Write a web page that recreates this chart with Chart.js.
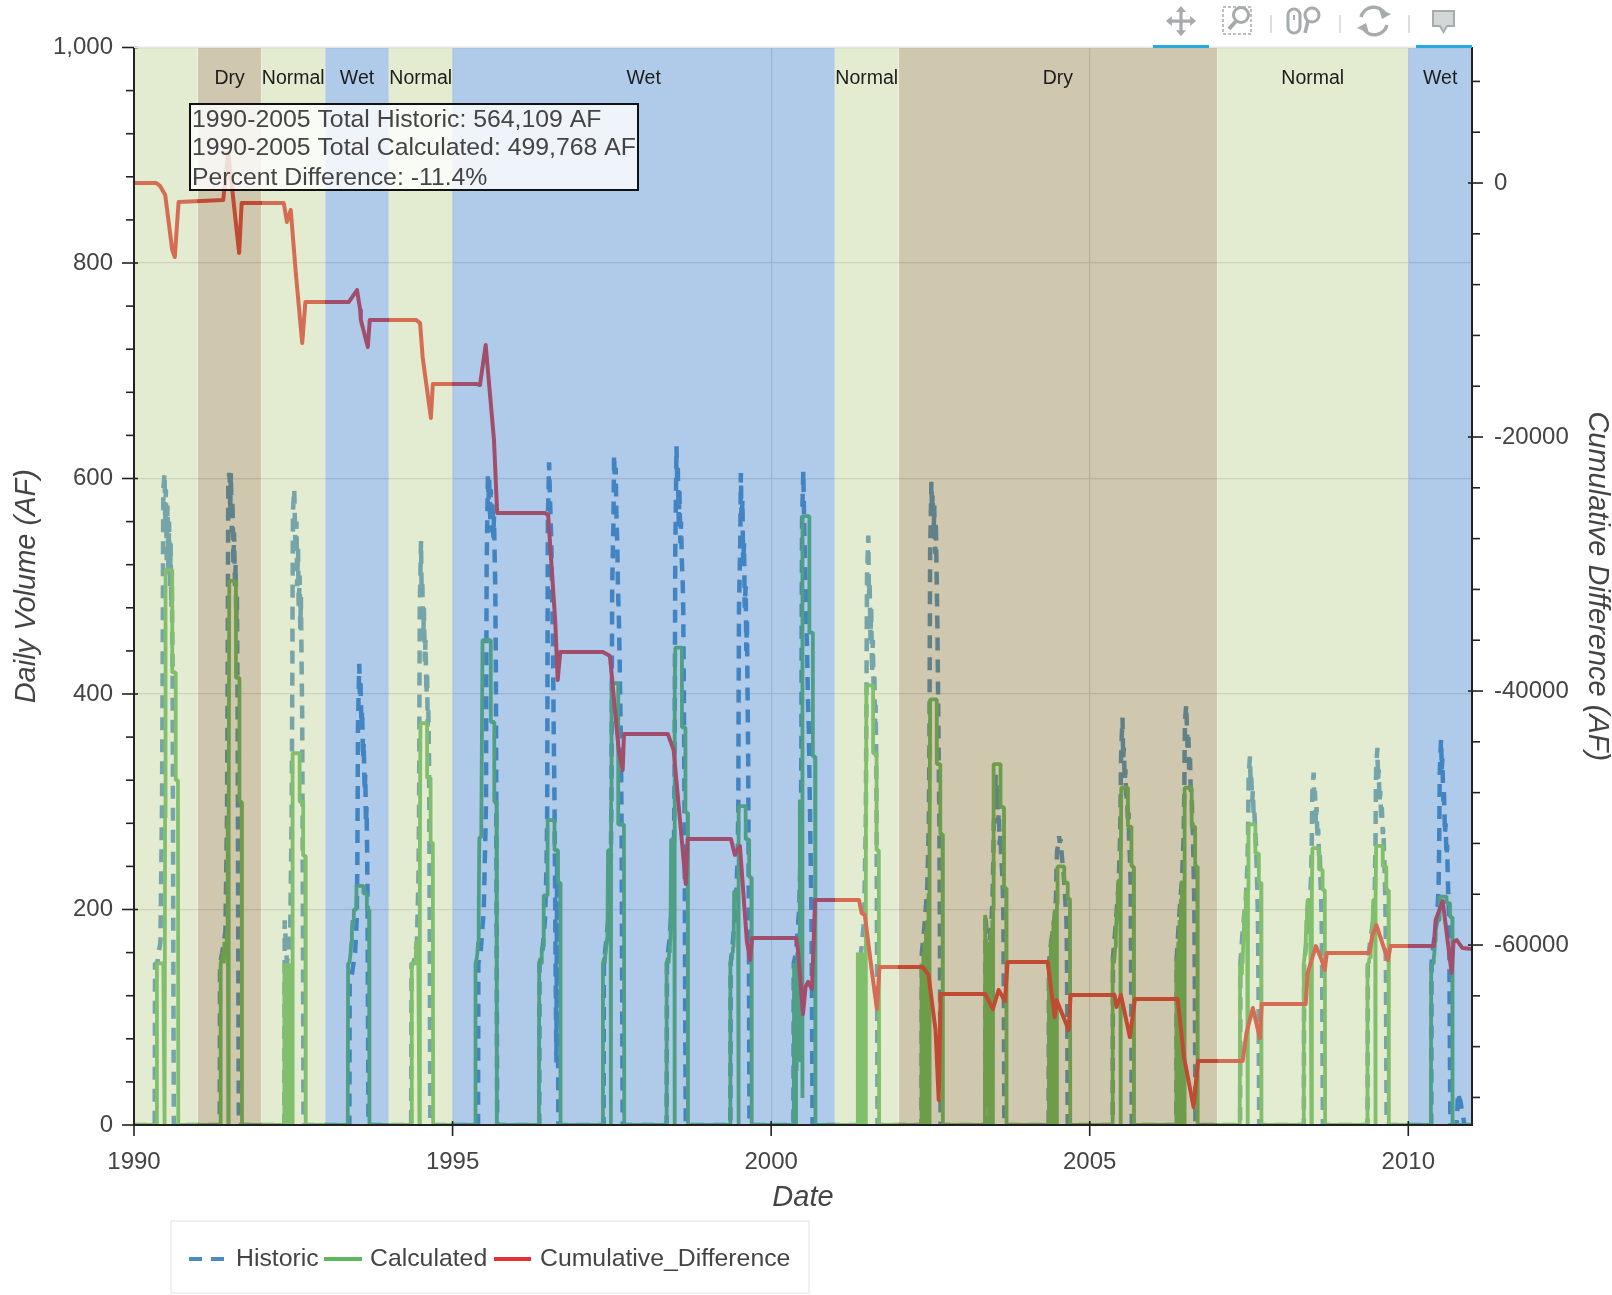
<!DOCTYPE html>
<html>
<head>
<meta charset="utf-8">
<title>Daily Volume</title>
<script src="https://cdn.jsdelivr.net/npm/chart.js"></script>
<style>
html,body{margin:0;padding:0;background:#fff;}
#wrap{position:relative;width:1612px;height:1295px;overflow:hidden;}
canvas{position:absolute;left:0;top:0;filter:blur(0.45px);}
#tools{position:absolute;left:0;top:0;filter:blur(0.4px);}
</style>
</head>
<body>
<div id="wrap">
<canvas id="c" width="1612" height="1295"></canvas>
<svg id="tools" width="1612" height="50" viewBox="0 0 1612 50" xmlns="http://www.w3.org/2000/svg">
  <rect x="134" y="46.5" width="1338" height="1.5" fill="#e5e5e5"/>
  <rect x="1153" y="45" width="56" height="3" fill="#26aae1"/>
  <rect x="1416" y="45" width="56" height="3" fill="#26aae1"/>
  <g stroke="#d0d3d4" stroke-width="1.5"><line x1="1271" y1="15" x2="1271" y2="33"/><line x1="1340" y1="15" x2="1340" y2="33"/><line x1="1409" y1="15" x2="1409" y2="33"/></g>
  <g fill="#a6abad" stroke="none">
    <path d="M1181 6l5 6h-3.400v7.500h7.500v-3.400l6 5-6 5v-3.400h-7.500v7.500h3.400l-5 6-5-6h3.400v-7.500h-7.500v3.400l-6-5 6-5v3.400h7.500v-7.500h-3.400z"/>
  </g>
  <g fill="none" stroke="#a6abad">
    <rect x="1223" y="7" width="28" height="27" stroke-width="1.500" stroke-dasharray="3 2"/>
    <circle cx="1241" cy="15" r="7.500" stroke-width="3" fill="#fff"/>
    <line x1="1236" y1="21" x2="1229" y2="29" stroke-width="4"/>
    <rect x="1288" y="9" width="12" height="24" rx="6" stroke-width="3"/>
    <line x1="1294" y1="15" x2="1294" y2="20" stroke-width="2"/>
    <circle cx="1312" cy="15" r="7" stroke-width="3"/>
    <line x1="1308" y1="21" x2="1305" y2="33" stroke-width="3.500"/>
    <path d="M1361 17a13 13 0 0 1 24-3M1387 25a13 13 0 0 1-24 3" stroke-width="3.500"/>
  </g>
  <g fill="#a6abad"><path d="M1379 9l12 5-9 5z"/><path d="M1369 33l-12-5 9-5z"/></g>
  <path d="M1433 11h21v15h-7l-3.500 6-3.500-6h-7z" fill="#d4d7d8" stroke="#a6abad" stroke-width="2"/>
</svg>
</div>
<script>
const seasonYears = [1990,1991,1992,1993,1994,1995,1996,1997,1998,1999,2000,2001,2002,2003,2004,2005,2006,2007,2008,2009,2010];

// Fraction of the year for each reading of a season
const historicFractions = [.36,.365,.40,.45,.475,.485,.49,.495,.515,.525,.535,.55,.56,.575,.585,.60,.61,.62,.63,.64,.645,.65,.66];
const historicSeasonShift = [-.035,-.015,0,.02,-.01,.04,0,.01,0,0,-.01,.01,0,0,-.005,0,0,0,0,0,0];
const calculatedFractions = [.355,.36,.38,.39,.40,.41,.42,.43,.44,.45,.46,.47,.48,.485,.488,.495,.60,.60,.655,.655,.69,.695];

const historicValues = [
 [0,150,150,170,300,430,520,590,605,560,590,520,575,510,560,500,540,480,500,430,320,210,0],
 [0,150,160,180,290,420,520,600,605,570,605,550,580,520,550,500,520,470,490,400,300,190,0],
 [0,190,150,170,290,420,510,570,590,560,530,560,500,535,480,510,460,490,430,380,300,210,0],
 [0,130,140,160,190,240,300,370,428,400,410,370,385,340,355,310,325,280,295,250,215,130,0],
 [0,150,150,170,230,300,400,480,542,490,505,450,480,430,450,400,420,370,385,340,290,200,0],
 [0,150,160,200,270,300,430,520,605,580,600,560,590,550,580,545,565,530,500,420,320,220,0],
 [0,150,155,190,240,290,420,560,615,590,570,540,500,450,380,300,210,120,58,240,230,180,0],
 [0,150,170,200,250,320,410,500,560,622,600,610,570,540,500,470,440,400,360,300,247,150,0],
 [0,150,170,210,260,330,430,530,630,600,610,560,590,540,560,520,510,480,400,300,220,120,0],
 [0,150,170,210,250,300,400,480,540,605,560,580,520,540,480,500,440,470,400,340,260,180,0],
 [0,150,160,200,260,350,470,560,607,570,540,500,470,440,400,370,330,290,250,210,170,120,0],
 [0,150,160,190,280,380,450,510,547,490,505,450,480,420,450,400,420,370,390,340,280,190,0],
 [0,160,180,220,280,360,450,530,597,570,585,545,575,530,560,500,460,400,340,280,220,150,0],
 [0,195,160,180,210,240,260,280,300,325,300,315,280,290,260,270,250,240,230,210,190,140,0],
 [0,150,170,190,210,240,250,255,262,268,262,265,255,245,240,230,220,210,200,190,170,130,0],
 [0,156,180,220,260,300,330,350,378,340,350,320,330,300,310,280,290,260,250,230,190,130,0],
 [0,155,190,230,270,310,350,375,390,370,350,360,330,340,310,310,280,270,240,210,180,120,0],
 [0,150,180,210,240,270,300,325,342,320,325,300,310,285,290,270,260,240,220,190,160,120,0],
 [0,150,170,200,230,260,290,310,327,300,310,280,295,265,275,250,255,230,215,190,160,120,0],
 [0,150,170,190,220,260,300,330,350,320,330,300,310,285,295,270,275,250,235,210,180,130,0],
 [0,150,170,190,220,260,300,330,358,330,340,300,310,270,280,250,260,230,210,190,160,100,0]
];
const historicTailDates = [2010.76,2010.78,2010.80,2010.82,2010.84,2010.86,2010.88,2011];
const historicTailValues = [0,30,25,22,14,8,0,0];

const calculatedValues = [
 [0,150,150,150,150,150,150,150,150,150,150,150,0,0,285,515,515,420,420,320,320,0],
 [0,150,155,150,160,150,170,160,170,165,180,285,0,200,285,505,505,415,415,300,300,0],
 [0,150,0,150,0,150,0,150,0,150,0,150,0,150,290,345,345,300,300,250,250,0],
 [0,150,150,150,160,170,180,190,190,200,200,200,200,200,205,222,222,215,215,200,200,0],
 [0,150,150,150,150,150,150,170,170,170,170,170,0,0,244,373,373,322,322,262,262,0],
 [0,150,155,160,170,200,267,267,267,267,267,450,450,450,450,450,450,374,374,300,300,0],
 [0,150,155,150,165,165,165,213,213,213,213,213,213,213,240,283,283,255,255,225,225,0],
 [0,150,155,150,160,165,165,175,255,255,255,255,255,0,300,410,410,279,279,279,279,0],
 [0,150,155,150,160,165,175,265,265,265,265,265,265,0,400,443,443,369,369,290,290,0],
 [0,150,155,160,165,165,217,217,217,217,217,217,217,0,296,296,296,265,265,230,230,0],
 [0,150,0,150,50,160,60,170,60,302,60,302,60,302,25,565,565,457,457,342,342,0],
 [0,160,0,160,0,160,0,160,0,160,0,160,0,170,250,408,408,345,345,255,255,0],
 [0,150,0,160,0,170,0,180,0,190,40,215,0,215,260,395,395,335,335,270,270,0],
 [0,195,20,160,30,170,0,170,0,180,0,190,0,200,250,335,335,295,295,220,220,0],
 [0,150,0,170,0,180,0,190,0,200,0,200,0,200,205,240,240,225,225,210,210,0],
 [0,156,150,156,165,180,190,200,215,227,227,227,227,0,227,313,313,277,277,240,240,0],
 [0,155,0,170,0,190,40,210,0,227,0,227,0,227,227,313,313,277,277,240,240,0],
 [0,150,140,160,150,170,190,200,195,218,190,218,0,218,218,279,279,252,252,225,225,0],
 [0,150,160,170,190,200,209,209,209,209,209,209,0,209,215,257,257,237,237,218,218,0],
 [0,150,150,155,155,160,170,180,190,209,209,209,209,0,209,259,259,240,240,218,218,0],
 [0,147,150,150,155,160,170,180,190,190,190,190,190,190,200,212,212,206,206,193,193,0]
];

const cumulativeDates = [1990,1990.35,1990.41,1990.49,1990.60,1990.64,1990.70,1991.40,1991.48,1991.65,1991.69,1992.35,1992.40,1992.46,1992.54,1992.64,1992.69,1993.37,1993.50,1993.55,1993.56,1993.67,1993.70,1994.43,1994.49,1994.53,1994.66,1994.69,1995.38,1995.43,1995.52,1995.65,1995.70,1996.45,1996.50,1996.61,1996.65,1996.69,1997.36,1997.47,1997.61,1997.67,1997.69,1998.38,1998.47,1998.66,1998.69,1999.37,1999.43,1999.51,1999.62,1999.67,1999.70,2000.39,2000.42,2000.50,2000.54,2000.58,2000.64,2000.69,2001.38,2001.42,2001.47,2001.58,2001.66,2001.70,2002.38,2002.47,2002.58,2002.63,2002.66,2003.36,2003.48,2003.57,2003.67,2003.71,2004.34,2004.45,2004.48,2004.67,2004.70,2005.39,2005.42,2005.49,2005.63,2005.71,2006.38,2006.48,2006.63,2006.70,2007.40,2007.46,2007.56,2007.67,2007.70,2008.39,2008.42,2008.55,2008.64,2008.69,2008.72,2009.39,2009.43,2009.50,2009.68,2009.72,2010.40,2010.43,2010.54,2010.68,2010.71,2010.76,2010.85,2011];
const cumulativeValues = [0,0,-240,-945,-5275,-5830,-1500,-1340,2360,-5510,-1575,-1575,-3070,-2125,-7090,-12600,-9370,-9370,-8425,-10000,-10790,-12910,-10790,-10790,-11020,-13700,-18500,-15830,-15830,-15900,-12760,-20240,-25980,-25980,-26140,-34400,-39130,-36930,-36930,-37240,-44800,-46220,-43390,-43390,-44650,-55200,-51650,-51650,-52900,-52200,-59760,-61180,-59450,-59450,-60310,-65430,-63300,-62900,-63460,-56460,-56460,-57480,-57640,-62050,-65040,-61730,-61730,-62360,-66690,-72200,-63860,-63860,-65040,-63540,-64410,-61340,-61340,-65670,-64330,-66690,-63940,-63940,-64880,-63940,-67240,-64250,-64250,-68820,-72760,-69130,-69130,-66930,-64960,-67320,-64650,-64650,-62200,-60080,-61180,-61970,-60630,-60630,-59370,-58430,-61180,-60080,-60080,-58030,-56540,-62200,-59760,-59610,-60240,-60310];

const bandStarts = [1990,1991,1992,1993,1994,1995,2001,2002,2007,2010];
const bandEnds   = [1991,1992,1993,1994,1995,2001,2002,2007,2010,2011];
const bandKinds  = ['Normal','Dry','Normal','Wet','Normal','Wet','Normal','Dry','Normal','Wet'];
const bandShowLabel = [false,true,true,true,true,true,true,true,true,true];
const bandColours = {Normal:'rgba(193,211,151,0.45)', Dry:'rgba(149,133,78,0.45)', Wet:'rgba(80,140,207,0.45)'};

const summaryLines = ['1990-2005 Total Historic: 564,109 AF','1990-2005 Total Calculated: 499,768 AF','Percent Difference: -11.4%'];
const legendNames = ['Historic','Calculated','Cumulative_Difference'];
const leftMinorTicks = [40,80,120,160,240,280,320,360,440,480,520,560,640,680,720,760,840,880,920,960];
const rightMajorTicks = [-60000,-40000,-20000,0];
const rightMinorTicks = [8000,4000,-4000,-8000,-12000,-16000,-24000,-28000,-32000,-36000,-44000,-48000,-52000,-56000,-64000,-68000,-72000];
const xMajorTicks = [1990,1995,2000,2005,2010];

const FONT = '"Liberation Sans", Arial, Helvetica, sans-serif';
const BLUE='#377eb8', GREEN='#4daf4a', RED='#e41a1c';

function seasonPoints(fractions, table, shift){
  const pts=[{x:1990,y:0}];
  table.forEach((vals,i)=>vals.forEach((v,j)=>pts.push({x:seasonYears[i]+fractions[j]+(shift?shift[i]:0),y:v})));
  return pts;
}
const historicPts = seasonPoints(historicFractions,historicValues,historicSeasonShift).concat(historicTailDates.map((d,i)=>({x:d,y:historicTailValues[i]})));
const calculatedPts = seasonPoints(calculatedFractions,calculatedValues).concat([{x:2011,y:0}]);
const cumulativePts = cumulativeDates.map((d,i)=>({x:d,y:cumulativeValues[i]}));

const bandSets = bandStarts.map((s,i)=>({
  label:bandKinds[i], data:[{x:s,y:1000},{x:bandEnds[i],y:1000}], yAxisID:'y', borderWidth:0,
  pointRadius:0, fill:'origin', backgroundColor:bandColours[bandKinds[i]], order:0, tension:0
}));

const overlay = {
  id:'overlay',
  afterDatasetsDraw(chart){
    const c=chart.ctx, x=chart.scales.x, y=chart.scales.y, r=chart.scales.y2, a=chart.chartArea;
    c.save();
    c.fillStyle='#1c1c1c'; c.font='19.5px '+FONT; c.textAlign='center'; c.textBaseline='middle';
    bandKinds.forEach((k,i)=>{ if(bandShowLabel[i]) c.fillText(k,x.getPixelForValue((bandStarts[i]+bandEnds[i])/2),79); });
    c.fillStyle='rgba(255,255,255,0.8)'; c.fillRect(190,104,448,86);
    c.strokeStyle='#111'; c.lineWidth=2; c.strokeRect(190,104,448,86);
    c.fillStyle='#444'; c.font='24.8px '+FONT; c.textAlign='left';
    [120,148,178].forEach((py,i)=>c.fillText(summaryLines[i],192,py));
    c.strokeStyle='#222'; c.lineWidth=1.6;
    const seg=(x1,y1,x2,y2)=>{c.beginPath();c.moveTo(x1,y1);c.lineTo(x2,y2);c.stroke();};
    y.ticks.forEach(t=>{const p=y.getPixelForValue(t.value);seg(a.left-12,p,a.left+4,p);});
    leftMinorTicks.forEach(v=>{const p=y.getPixelForValue(v);seg(a.left-8,p,a.left,p);});
    rightMajorTicks.forEach(v=>{const p=r.getPixelForValue(v);seg(a.right-4,p,a.right+11,p);});
    rightMinorTicks.forEach(v=>{const p=r.getPixelForValue(v);seg(a.right,p,a.right+8,p);});
    xMajorTicks.forEach(v=>{const p=x.getPixelForValue(v);seg(p,a.bottom-4,p,a.bottom+11);});
    c.restore();
  },
  afterDraw(chart){
    const c=chart.ctx;
    c.save();
    c.strokeStyle='#ececec'; c.lineWidth=1.5; c.strokeRect(171,1221,638,72);
    const ly=1259;
    c.lineWidth=4;
    c.strokeStyle='rgba(55,126,184,0.9)'; c.setLineDash([13,9]); c.beginPath(); c.moveTo(189,ly); c.lineTo(224,ly); c.stroke(); c.setLineDash([]);
    c.strokeStyle='rgba(77,175,74,0.9)'; c.beginPath(); c.moveTo(324,ly); c.lineTo(362,ly); c.stroke();
    c.strokeStyle='rgba(228,26,28,0.9)'; c.beginPath(); c.moveTo(494,ly); c.lineTo(531,ly); c.stroke();
    c.fillStyle='#444'; c.font='24.8px '+FONT; c.textAlign='left'; c.textBaseline='middle';
    c.fillText(legendNames[0],236,ly); c.fillText(legendNames[1],370,ly); c.fillText(legendNames[2],540,ly);
    c.restore();
  }
};

new Chart(document.getElementById('c'),{
  type:'line',
  data:{datasets:[
    ...bandSets,
    {label:legendNames[0],data:historicPts,yAxisID:'y',borderColor:BLUE,borderWidth:4.5,borderDash:[13,9],pointRadius:0,fill:false,order:3,tension:0,borderJoinStyle:'bevel',borderCapStyle:'butt'},
    {label:legendNames[1],data:calculatedPts,yAxisID:'y',borderColor:GREEN,borderWidth:3.8,pointRadius:0,fill:false,order:2,tension:0,borderJoinStyle:'bevel'},
    {label:legendNames[2],data:cumulativePts,yAxisID:'y2',borderColor:RED,borderWidth:4,pointRadius:0,fill:false,order:1,tension:0,borderJoinStyle:'round'}
  ]},
  plugins:[overlay],
  options:{
    responsive:false, animation:false, parsing:false, normalized:true,
    layout:{padding:{top:47.5,left:0,right:0,bottom:0}},
    plugins:{legend:{display:false},tooltip:{enabled:false},title:{display:false}},
    scales:{
      x:{type:'linear',position:'bottom',min:1990,max:2011,
        afterFit(s){s.height=170;},
        grid:{color:'#d8d8d8',lineWidth:1.2,drawTicks:false},
        border:{display:true,color:'#222',width:2,z:1},
        ticks:{stepSize:5,includeBounds:false,maxRotation:0,autoSkip:false,padding:23,color:'#444',font:{size:24,family:FONT},z:1,callback:v=>String(v)},
        title:{display:true,text:'Date',color:'#444',font:{size:29,style:'italic',family:FONT},padding:{top:0,bottom:80}}
      },
      y:{type:'linear',position:'left',min:0,max:1000,
        afterFit(s){s.width=134;},
        grid:{color:'#d8d8d8',lineWidth:1.2,drawTicks:false},
        border:{display:true,color:'#222',width:2,z:1},
        ticks:{stepSize:200,includeBounds:false,padding:21,color:'#444',font:{size:24,family:FONT},z:1,callback:v=>v.toLocaleString('en-US')},
        title:{display:true,text:'Daily Volume (AF)',color:'#444',font:{size:29,style:'italic',family:FONT},padding:{top:10,bottom:0}}
      },
      y2:{type:'linear',position:'right',min:-74170,max:10670,
        afterBuildTicks(s){s.ticks=rightMajorTicks.map(v=>({value:v}));},
        afterFit(s){s.width=140;},
        grid:{drawOnChartArea:false,drawTicks:false},
        border:{display:true,color:'#222',width:2,z:1},
        ticks:{padding:22,color:'#444',font:{size:24,family:FONT},z:1,callback:v=>String(v)},
        title:{display:true,text:'Cumulative Difference (AF)',color:'#444',font:{size:29,style:'italic',family:FONT},padding:{top:-2,bottom:0}}
      }
    }
  }
});
</script>
</body>
</html>
